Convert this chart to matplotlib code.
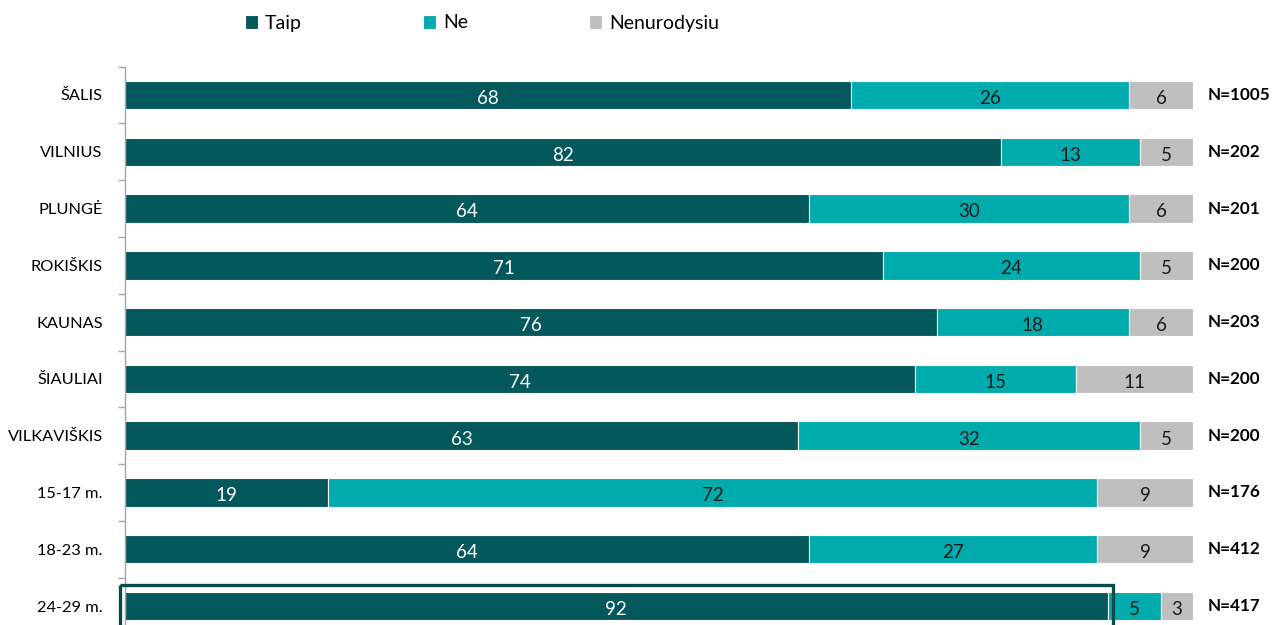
import matplotlib.pyplot as plt
from matplotlib.patches import Rectangle

plt.rcParams['font.family'] = ['Lato', 'DejaVu Sans']

categories = ['ŠALIS', 'VILNIUS', 'PLUNGĖ', 'ROKIŠKIS', 'KAUNAS', 'ŠIAULIAI',
              'VILKAVIŠKIS', '15-17 m.', '18-23 m.', '24-29 m.']
taip = [68, 82, 64, 71, 76, 74, 63, 19, 64, 92]
ne = [26, 13, 30, 24, 18, 15, 32, 72, 27, 5]
nenurodysiu = [6, 5, 6, 5, 6, 11, 5, 9, 9, 3]
n_labels = ['N=1005', 'N=202', 'N=201', 'N=200', 'N=203', 'N=200', 'N=200',
            'N=176', 'N=412', 'N=417']

series_names = ['Taip', 'Ne', 'Nenurodysiu']
colors = ['#03585B', '#00ABAE', '#BFBFBF']
text_colors = ['white', '#1a1a1a', '#1a1a1a']

fig = plt.figure(figsize=(12.73, 6.25), dpi=100)
# axes top at ~66.6 px, bottom at ~634.4 px (runs past the bottom of the figure)
ax = fig.add_axes([125 / 1273, 1 - 634.4 / 625, (1193 - 125) / 1273, 567.8 / 625])

y = list(range(len(categories)))
left = [0] * len(categories)
handles = []
for vals, name, col, tcol in zip([taip, ne, nenurodysiu], series_names, colors, text_colors):
    bars = ax.barh(y, vals, left=left, height=0.5, color=col, edgecolor='white',
                   linewidth=0.8, label=name)
    handles.append(bars)
    for yi, v, l in zip(y, vals, left):
        ax.text(l + v / 2, yi + 0.06, str(v), ha='center', va='center',
                color=tcol, fontsize=13.5)
    left = [a + b for a, b in zip(left, vals)]

for yi, lab in zip(y, n_labels):
    ax.text(101.4, yi, lab, ha='left', va='center', fontsize=12.3,
            fontweight='bold', color='black', clip_on=False)

ax.set_xlim(0, 100)
ax.set_ylim(9.5, -0.5)
ax.set_yticks(y)
ax.set_yticklabels(categories, fontsize=11.8)
ax.set_yticks([i - 0.5 for i in range(len(categories) + 1)], minor=True)
ax.tick_params(axis='y', which='major', length=0, pad=16)
ax.tick_params(axis='y', which='minor', length=5, color='#a6a6a6', width=1)
ax.set_xticks([])
for s in ['top', 'right', 'bottom']:
    ax.spines[s].set_visible(False)
ax.spines['left'].set_color('#a6a6a6')
ax.spines['left'].set_linewidth(1)

# highlight box around the last row
ax.add_patch(Rectangle((-0.47, 8.63), 92.97, 1.5, fill=False, edgecolor='#0B4A4A',
                       linewidth=2.4, clip_on=False, zorder=5))

fig.legend(handles=handles, labels=series_names, loc='center',
           bbox_to_anchor=(482 / 1273, 1 - 23 / 625), ncol=3, frameon=False,
           fontsize=14, handlelength=0.7, handleheight=0.7, handletextpad=0.35,
           columnspacing=6.2)

fig.savefig('out.png', dpi=100)
